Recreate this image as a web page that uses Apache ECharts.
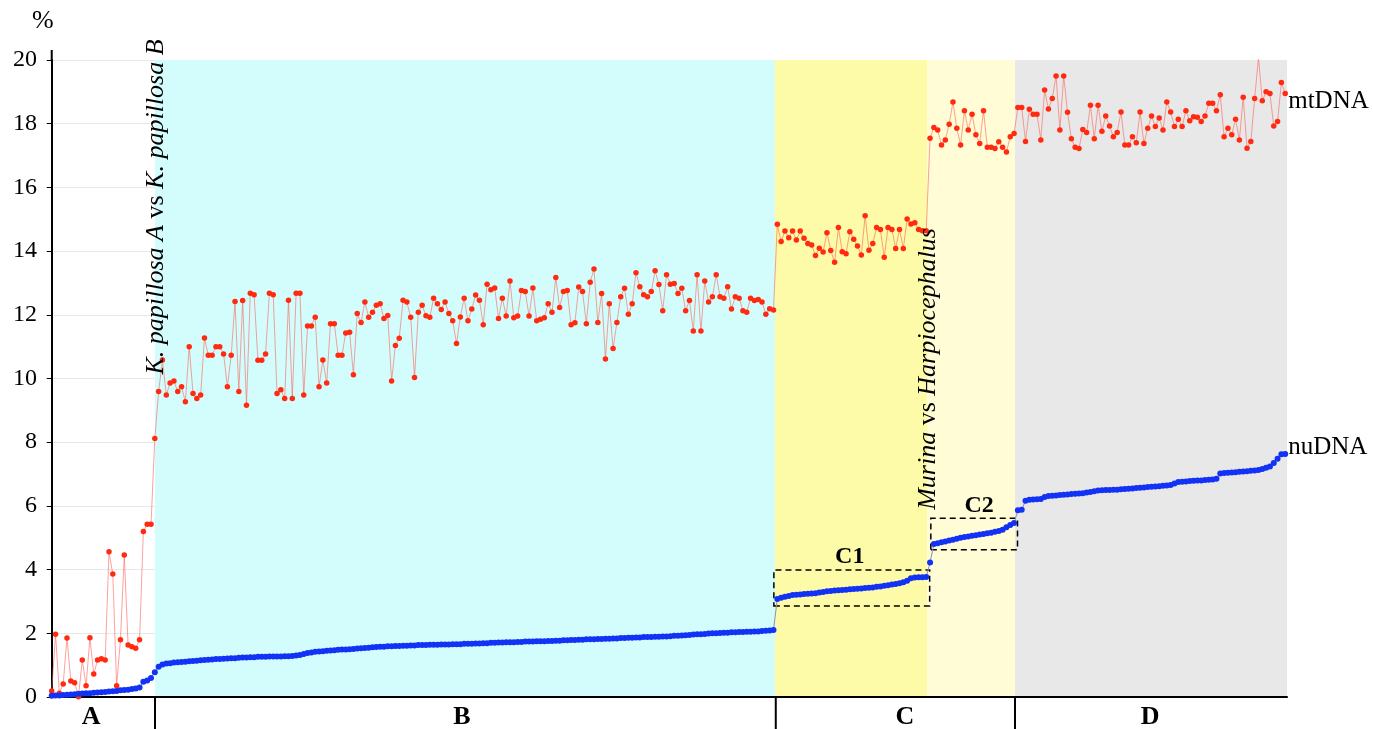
<!DOCTYPE html>
<html><head><meta charset="utf-8">
<script src="https://cdn.jsdelivr.net/npm/echarts@6/dist/echarts.min.js"></script>
<style>html,body{margin:0;padding:0;background:#fff}#c{width:1373px;height:729px}</style>
</head><body><div id="c"></div>
<script>
// mtDNA distances (%) for each pairwise comparison, in plotted order
const mtDNA = [
0.19,1.97,0.12,0.41,1.85,0.50,0.45,0.01,1.16,0.35,
1.86,0.72,1.16,1.20,1.16,4.56,3.86,0.35,1.80,4.46,
1.63,1.58,1.53,1.80,5.20,5.42,5.42,8.12,
9.59,10.58,9.48,9.86,9.92,9.59,9.74,9.27,11.0,9.53,9.37,9.48,
11.27,10.73,10.73,11.0,11.0,10.77,9.74,10.73,12.42,9.59,
12.45,9.16,12.68,12.63,10.57,10.57,10.77,12.68,12.63,9.53,
9.65,9.37,12.46,9.37,12.68,12.68,9.48,11.65,11.65,11.92,
9.74,10.58,9.86,11.72,11.72,10.73,10.73,11.43,11.45,10.12,
12.04,11.76,12.40,11.92,12.08,12.30,12.35,11.88,11.98,9.92,
11.04,11.26,12.46,12.40,11.92,10.03,12.08,12.30,11.97,11.92,
12.52,12.35,12.17,12.40,12.04,11.81,11.10,11.93,12.52,11.81,
12.18,12.62,12.46,11.69,12.96,12.79,12.84,11.88,12.52,11.96,
13.06,11.91,11.96,12.76,12.73,11.96,12.84,11.81,11.86,11.91,
12.35,12.08,13.17,12.23,12.73,12.76,11.69,11.75,12.87,12.73,
11.72,13.02,13.44,11.76,12.67,10.61,12.35,10.94,11.76,12.57,
12.83,12.02,12.35,13.32,12.88,12.63,12.57,12.73,13.38,12.95,
12.13,13.26,12.96,12.98,12.67,12.83,12.13,12.45,11.49,13.26,
11.49,13.06,12.40,12.57,13.26,12.57,12.52,12.88,12.18,12.57,
12.52,12.13,12.08,12.52,12.45,12.48,12.40,12.02,12.19,12.15,
14.84,14.30,14.63,14.42,14.63,14.35,14.63,14.40,14.24,14.19,
13.86,14.09,13.97,14.58,14.02,13.65,14.74,13.98,13.92,14.61,
14.37,14.16,13.88,15.11,14.03,14.24,14.74,14.68,13.81,14.74,
14.68,14.08,14.68,14.08,15.01,14.85,14.89,14.68,14.64,14.64,
17.54,17.88,17.80,17.33,17.49,17.98,18.68,17.86,17.33,18.41,
17.80,18.30,17.65,17.38,18.41,17.26,17.26,17.22,17.43,17.26,
17.11,17.59,17.69,18.51,18.51,17.44,18.45,18.30,18.30,17.49,
19.06,18.46,18.79,19.50,17.80,19.50,18.36,17.53,17.26,17.22,
17.82,17.72,18.58,17.53,18.58,17.76,18.24,17.93,17.59,17.72,
18.37,17.33,17.33,17.59,17.40,18.37,17.38,17.86,18.24,17.91,
18.18,17.80,18.68,18.37,17.91,18.14,17.91,18.41,18.09,18.22,
18.20,18.07,18.24,18.64,18.64,18.41,18.91,17.59,17.86,17.65,
18.14,17.49,18.83,17.23,17.44,18.79,20.08,18.72,19.00,18.95,
17.93,18.07,19.29,18.95
];
// nuDNA distances (%) for the same comparisons
const nuDNA = [
0.04,0.05,0.05,0.06,0.07,0.08,0.09,0.10,0.11,0.12,
0.12,0.13,0.14,0.15,0.16,0.17,0.18,0.19,0.21,0.22,
0.23,0.25,0.27,0.30,0.48,0.52,0.60,0.78,0.95,1.02,
1.05,1.06,1.08,1.09,1.10,1.11,1.12,1.13,1.14,1.15,
1.16,1.17,1.18,1.19,1.19,1.20,1.21,1.22,1.22,1.23,
1.24,1.24,1.25,1.25,1.26,1.26,1.26,1.27,1.27,1.27,
1.27,1.28,1.28,1.29,1.30,1.32,1.35,1.38,1.40,1.42,
1.43,1.44,1.45,1.46,1.47,1.48,1.49,1.49,1.50,1.51,
1.52,1.53,1.54,1.55,1.56,1.57,1.58,1.58,1.59,1.59,
1.60,1.60,1.61,1.61,1.62,1.62,1.63,1.63,1.63,1.64,
1.64,1.64,1.65,1.65,1.65,1.66,1.66,1.66,1.67,1.67,
1.67,1.68,1.68,1.69,1.69,1.70,1.70,1.71,1.71,1.72,
1.72,1.72,1.73,1.73,1.74,1.74,1.74,1.75,1.75,1.75,
1.76,1.76,1.77,1.77,1.78,1.78,1.79,1.79,1.80,1.80,
1.81,1.81,1.81,1.82,1.82,1.83,1.83,1.84,1.84,1.85,
1.85,1.86,1.86,1.87,1.87,1.88,1.88,1.88,1.89,1.89,
1.90,1.90,1.91,1.92,1.92,1.93,1.94,1.95,1.96,1.97,
1.97,1.98,1.99,2.00,2.00,2.01,2.02,2.02,2.03,2.03,
2.04,2.04,2.05,2.05,2.06,2.06,2.07,2.08,2.09,2.10,
3.08,3.12,3.15,3.17,3.20,3.21,3.22,3.23,3.24,3.25,
3.26,3.28,3.30,3.32,3.33,3.34,3.35,3.36,3.37,3.38,
3.39,3.40,3.41,3.42,3.43,3.44,3.46,3.47,3.49,3.51,
3.53,3.55,3.57,3.60,3.65,3.73,3.75,3.76,3.76,3.77,
4.22,4.80,4.83,4.86,4.88,4.91,4.94,4.97,5.00,5.02,
5.04,5.06,5.08,5.10,5.12,5.14,5.16,5.19,5.21,5.25,
5.33,5.40,5.46,5.86,5.88,6.16,6.19,6.20,6.21,6.22,
6.28,6.31,6.32,6.33,6.34,6.35,6.36,6.37,6.38,6.39,
6.40,6.42,6.44,6.46,6.48,6.49,6.50,6.50,6.51,6.51,
6.52,6.53,6.54,6.55,6.56,6.57,6.58,6.59,6.60,6.61,
6.62,6.63,6.64,6.66,6.70,6.75,6.76,6.77,6.78,6.79,
6.80,6.80,6.81,6.82,6.83,6.85,7.02,7.03,7.04,7.05,
7.06,7.07,7.08,7.09,7.10,7.11,7.13,7.16,7.20,7.24,
7.35,7.48,7.62,7.63
];
const seriesNames = ['mtDNA', 'nuDNA'];
const groupNames = ['A', 'B', 'C', 'D'];
const yTickValues = [0, 2, 4, 6, 8, 10, 12, 14, 16, 18, 20];

// layout (comparison-index coordinates of the region edges)
const xMin = -0.45, xMax = 323.47;
const edgeAB = 27.05, edgeBC = 189.4, edgeC1C2 = 229.2, edgeCD = 252.25;
const groupLabelX = [10.3, 107.4, 223.4, 287.6];
const boxC1 = [[189.1, 2.86], [229.9, 3.99]];
const boxC2 = [[230.2, 4.62], [252.9, 5.61]];

const SERIF = '"Liberation Serif","DejaVu Serif",serif';
const chart = echarts.init(document.getElementById('c'), null, {renderer: 'canvas'});

const pts = arr => arr.map((v, i) => [i, v]);
const region = (a, b, color) => [{xAxis: a, yAxis: 0, itemStyle: {color: color}}, {xAxis: b, yAxis: 20}];
const box = (b) => [{coord: b[0]}, {coord: b[1]}];

chart.setOption({
  animation: false,
  backgroundColor: '#fff',
  grid: {left: 50, right: 86, top: 60, bottom: 32, containLabel: false},
  xAxis: {
    type: 'value', min: xMin, max: xMax, z: 1,
    axisLine: {show: true, onZero: false, lineStyle: {color: '#000', width: 2}},
    axisTick: {show: false}, axisLabel: {show: false}, splitLine: {show: false}
  },
  yAxis: {
    type: 'value', min: 0, max: 20, interval: 2, z: 1,
    axisLine: {show: true, lineStyle: {color: '#000', width: 2}},
    axisTick: {show: true, length: 5, lineStyle: {color: '#000', width: 1}},
    axisLabel: {color: '#000', fontFamily: SERIF, fontSize: 24, margin: 13,
      formatter: v => yTickValues.indexOf(v) >= 0 ? String(v) : ''},
    splitLine: {show: true, lineStyle: {color: 'rgba(0,0,0,0.09)', width: 1}}
  },
  series: [
    {
      type: 'line', name: 'regions', data: [], z: 0, silent: true,
      markArea: {silent: true, data: [
        region(edgeAB, edgeBC, '#d3fdfd'),
        region(edgeBC, edgeC1C2, '#fdfaa8'),
        region(edgeC1C2, edgeCD, '#fffcd6'),
        region(edgeCD, xMax, '#e8e8e8')
      ]}
    },
    {
      type: 'line', name: seriesNames[0], data: pts(mtDNA), z: 3,
      symbol: 'circle', symbolSize: 5.5, showSymbol: true,
      itemStyle: {color: '#ff2a10'},
      lineStyle: {color: 'rgba(250,100,90,0.6)', width: 1}
    },
    {
      type: 'line', name: seriesNames[1], data: pts(nuDNA), z: 4,
      symbol: 'circle', symbolSize: 6, showSymbol: true,
      itemStyle: {color: '#1232f5'},
      lineStyle: {color: '#8890b8', width: 1},
      markArea: {silent: true, itemStyle: {color: 'rgba(0,0,0,0)', borderColor: '#000', borderWidth: 1.5, borderType: [6, 4]},
        data: [box(boxC1), box(boxC2)]}
    }
  ]
});

function P(x, y) { return chart.convertToPixel({gridIndex: 0}, [x, y]); }
const y0 = P(0, 0)[1];
const top20 = P(0, 20);
const g = [];
const Z = 100;
g.push({type: 'text', z: Z, left: 32, top: 8, style: {text: '%', font: '26px ' + SERIF, fill: '#000'}});
g.push({type: 'line', z: Z, shape: {x1: top20[0], y1: top20[1], x2: top20[0], y2: top20[1] - 10}, style: {stroke: '#000', lineWidth: 2}});
// region separators under the axis
[edgeAB, edgeBC + 0.2, edgeCD].forEach(e => {
  const p = P(e, 0);
  g.push({type: 'line', z: Z, shape: {x1: p[0], y1: y0, x2: p[0], y2: 729}, style: {stroke: '#000', lineWidth: 2}});
});
groupNames.forEach((n, i) => {
  const p = P(groupLabelX[i], 0);
  g.push({type: 'text', z: Z, x: p[0], y: y0 + 20, style: {text: n, font: 'bold 26px ' + SERIF, fill: '#000', align: 'center', verticalAlign: 'middle'}});
});
// series end labels
const endM = P(mtDNA.length - 1, mtDNA[mtDNA.length - 1]);
const endN = P(nuDNA.length - 1, nuDNA[nuDNA.length - 1]);
g.push({type: 'text', z: Z, x: endM[0] + 3, y: P(0, 18.7)[1], style: {text: seriesNames[0], font: '25px ' + SERIF, fill: '#000', align: 'left', verticalAlign: 'middle'}});
g.push({type: 'text', z: Z, x: endN[0] + 3, y: P(0, 7.83)[1], style: {text: seriesNames[1], font: '25px ' + SERIF, fill: '#000', align: 'left', verticalAlign: 'middle'}});
// box titles
const c1 = P((boxC1[0][0] + boxC1[1][0]) / 2, boxC1[1][1]);
const c2 = P((boxC2[0][0] + boxC2[1][0]) / 2, boxC2[1][1]);
g.push({type: 'text', z: Z, x: c1[0] - 2, y: c1[1] - 13, style: {text: 'C1', font: 'bold 24px ' + SERIF, fill: '#000', align: 'center', verticalAlign: 'middle'}});
g.push({type: 'text', z: Z, x: c2[0] + 5, y: c2[1] - 13, style: {text: 'C2', font: 'bold 24px ' + SERIF, fill: '#000', align: 'center', verticalAlign: 'middle'}});
// rotated comparison labels
const rich = {i: {fontStyle: 'italic', fontFamily: SERIF, fontSize: 26, fill: '#000'}, n: {fontFamily: SERIF, fontSize: 26, fill: '#000'}};
const kp = P(edgeAB, 0);
g.push({type: 'text', z: Z, x: kp[0] + 1, y: 207, rotation: Math.PI / 2,
  style: {text: '{i|K. papillosa A}{n| vs }{i|K. papillosa B}', rich: rich, align: 'center', verticalAlign: 'middle', fill: '#000'}});
const mh = P(edgeC1C2, 0);
g.push({type: 'text', z: Z, x: mh[0] + 1, y: 369, rotation: Math.PI / 2,
  style: {text: '{i|Murina}{n| vs }{i|Harpiocephalus}', rich: rich, align: 'center', verticalAlign: 'middle', fill: '#000'}});
chart.setOption({graphic: g});
</script>
</body></html>
